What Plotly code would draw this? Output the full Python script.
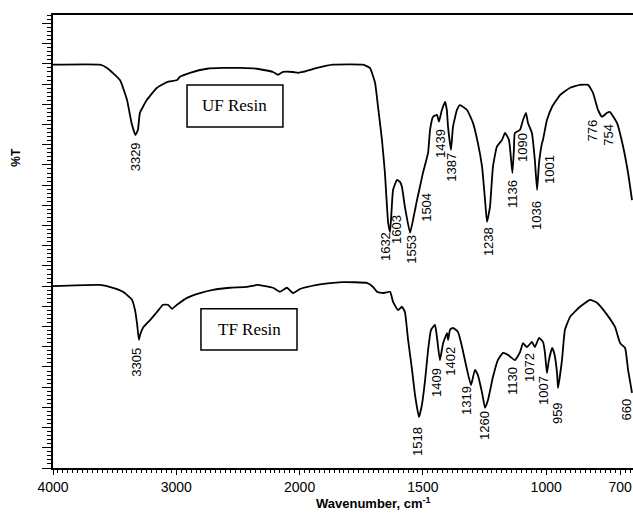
import plotly.graph_objects as go

# ---- data (wavenumber in cm-1, transmittance in arbitrary %T units) ----
uf_wn = [4000, 3619, 3562, 3457, 3400, 3363, 3331, 3311, 3295, 3238, 3157, 3075, 2994, 2970,
         2889, 2751, 2621, 2483, 2345, 2216, 2175, 2135, 2054, 2013, 1986, 1929, 1865, 1743,
         1715, 1694, 1682, 1666, 1654, 1641, 1633, 1621, 1605, 1593, 1585, 1573, 1552, 1540,
         1524, 1512, 1500, 1479, 1471, 1459, 1443, 1435, 1423, 1410, 1403, 1398, 1386, 1378,
         1362, 1350, 1321, 1297, 1277, 1260, 1248, 1240, 1228, 1216, 1200, 1179, 1167, 1151,
         1137, 1131, 1127, 1106, 1094, 1082, 1074, 1058, 1046, 1037, 1029, 1017, 1013, 997,
         976, 944, 903, 863, 830, 810, 790, 774, 753, 741, 733, 713, 688, 668, 652]
uf_T = [99.8, 99.8, 99.0, 96.0, 91.1, 85.4, 82.4, 83.7, 87.9, 91.1, 94.1, 95.5, 96.0, 96.8,
        97.8, 98.8, 99.0, 99.0, 98.8, 98.0, 97.3, 98.0, 98.0, 97.8, 98.0, 99.0, 99.8, 99.8,
        99.0, 95.3, 89.4, 81.2, 73.0, 60.7, 58.4, 68.8, 71.3, 70.8, 69.6, 64.6, 58.2, 61.4,
        66.3, 69.6, 73.0, 78.0, 83.7, 86.9, 87.4, 85.7, 88.6, 90.6, 88.6, 84.4, 78.7, 84.4,
        88.6, 89.8, 88.6, 85.4, 80.4, 74.5, 66.3, 60.9, 64.6, 74.5, 79.5, 81.2, 82.9, 81.2,
        73.0, 78.7, 82.9, 83.7, 86.1, 87.9, 85.4, 82.9, 76.2, 68.8, 75.5, 80.4, 81.2, 86.1,
        89.4, 92.3, 94.1, 94.8, 94.8, 92.8, 88.6, 86.9, 87.9, 88.1, 87.4, 85.4, 79.5, 73.0, 66.3]

tf_wn = [4000, 3619, 3513, 3432, 3359, 3335, 3319, 3303, 3294, 3270, 3213, 3157, 3108, 3067,
         3035, 2994, 2913, 2808, 2702, 2565, 2427, 2345, 2216, 2159, 2103, 2054, 1998, 1929,
         1865, 1824, 1727, 1702, 1686, 1662, 1633, 1621, 1601, 1585, 1573, 1560, 1544, 1532,
         1516, 1504, 1491, 1479, 1467, 1451, 1443, 1431, 1418, 1402, 1398, 1390, 1378, 1358,
         1341, 1321, 1305, 1289, 1277, 1260, 1248, 1236, 1216, 1196, 1175, 1155, 1127, 1106,
         1094, 1078, 1058, 1046, 1029, 1013, 1005, 997, 989, 976, 968, 956, 952, 936, 924,
         903, 863, 822, 794, 753, 721, 700, 680, 668, 652]
tf_T = [45.0, 45.3, 44.6, 43.6, 41.6, 39.1, 35.9, 31.7, 32.9, 34.7, 36.6, 38.6, 40.4, 40.4,
        39.4, 40.4, 42.1, 43.3, 44.1, 44.6, 44.8, 45.3, 44.6, 43.6, 44.6, 43.3, 44.3, 45.3,
        45.8, 46.0, 45.8, 44.8, 43.6, 43.3, 43.6, 41.1, 39.1, 39.9, 38.6, 31.7, 24.3, 18.1,
        12.6, 15.6, 21.8, 29.2, 34.2, 35.4, 32.4, 26.7, 30.9, 33.4, 31.7, 34.2, 34.7, 33.7,
        29.9, 24.3, 20.5, 24.3, 23.0, 18.6, 14.9, 16.8, 22.5, 26.7, 28.5, 28.0, 26.7, 28.7,
        30.9, 29.9, 31.2, 29.9, 32.2, 31.2, 28.5, 23.5, 26.7, 29.7, 28.5, 23.5, 19.8, 26.7, 34.2,
        37.4, 39.9, 41.6, 40.9, 37.9, 34.9, 30.9, 29.7, 24.3, 18.6]

uf_peaks = ["3329", "1632", "1603", "1553", "1504", "1439", "1387", "1238", "1136", "1090",
            "1036", "1001", "776", "754"]
uf_peak_wn = [3331, 1654, 1605, 1544, 1483, 1431, 1382, 1236, 1139, 1094, 1037, 984, 812, 745]
uf_peak_T = [77.0, 54.9, 58.9, 54.0, 64.4, 80.4, 74.3, 55.9, 67.8, 79.2, 62.4, 73.8, 83.4, 82.5]

tf_peaks = ["3305", "1518", "1409", "1402", "1319", "1260", "1130", "1072", "1007", "959", "660"]
tf_peak_wn = [3319, 1520, 1443, 1386, 1321, 1248, 1139, 1066, 1013, 956, 674]
tf_peak_T = [26.3, 6.7, 21.3, 26.3, 16.6, 10.4, 21.5, 25.0, 19.3, 13.6, 14.4]

tick_label_wn = [4000, 3000, 2000, 1500, 1000, 700]
x_limits = [4000, 648]
y_limits = [0, 112.1]


def xt(w):
    """Instrument scale: 1000 cm-1 per unit above 2000, 500 cm-1 per unit below."""
    return (4000 - w) / 1000 if w >= 2000 else 2 + (2000 - w) / 500


major_wn = list(range(4000, 2000, -200)) + list(range(2000, 690, -100))
minor_wn = list(range(4000, 2000, -40)) + list(range(2000, 640, -20))

fig = go.Figure()
for wn, tv in ((uf_wn, uf_T), (tf_wn, tf_T)):
    fig.add_trace(go.Scatter(x=[xt(w) for w in wn], y=tv, mode="lines",
                             line=dict(color="black", width=1.8, shape="spline", smoothing=0.4),
                             showlegend=False, hoverinfo="skip"))

label_font = dict(family="Liberation Sans Narrow, Arial Narrow, Liberation Sans, Arial", size=13, color="black")
annotations = []
for labels, wns, ts in ((uf_peaks, uf_peak_wn, uf_peak_T), (tf_peaks, tf_peak_wn, tf_peak_T)):
    for lab, w, t in zip(labels, wns, ts):
        annotations.append(dict(x=xt(w), y=t, xref="x", yref="y", text=lab, textangle=-90,
                                showarrow=False, xanchor="center", yanchor="middle", font=label_font))

# resin boxes
annotations.append(dict(x=1.476, y=89.6, xref="x", yref="y", text="UF Resin", showarrow=False,
                        font=dict(family="Liberation Serif, Times New Roman, serif", size=17, color="black")))
annotations.append(dict(x=1.590, y=34.3, xref="x", yref="y", text="TF Resin", showarrow=False,
                        font=dict(family="Liberation Serif, Times New Roman, serif", size=17, color="black")))
shapes = [
    dict(type="rect", xref="x", yref="y", x0=1.087, x1=1.865, y0=84.4, y1=94.8,
         line=dict(color="black", width=1.5)),
    dict(type="rect", xref="x", yref="y", x0=1.200, x1=1.979, y0=29.2, y1=39.4,
         line=dict(color="black", width=1.5)),
]

annotations.append(dict(x=-0.064, y=0.687, xref="paper", yref="paper", text="<b>%T</b>", textangle=-90,
                        showarrow=False, xanchor="center", yanchor="middle",
                        font=dict(family="Liberation Sans, Arial", size=12, color="black")))
annotations.append(dict(x=0.553, y=-0.078, xref="paper", yref="paper",
                        text="<b>Wavenumber, cm<sup>-1</sup></b>", showarrow=False,
                        xanchor="center", yanchor="middle",
                        font=dict(family="Liberation Sans, Arial", size=13, color="black")))

fig.update_layout(
    width=633, height=513,
    margin=dict(l=53, r=0, t=15, b=45),
    paper_bgcolor="white", plot_bgcolor="white",
    annotations=annotations, shapes=shapes,
    xaxis=dict(range=[xt(x_limits[0]), xt(x_limits[1])], showgrid=False, zeroline=False,
               showline=True, linecolor="black", linewidth=1.5, mirror=True,
               ticks="outside", ticklen=5, tickwidth=1.2, tickcolor="black",
               tickmode="array", tickvals=[xt(w) for w in major_wn],
               ticktext=[str(w) if w in tick_label_wn else "" for w in major_wn],
               tickfont=dict(family="Liberation Sans, Arial", size=14, color="black"),
               minor=dict(tickmode="array", tickvals=[xt(w) for w in minor_wn], ticks="outside",
                          ticklen=3, tickwidth=1, tickcolor="black")),
    yaxis=dict(range=y_limits, showgrid=False, zeroline=False, showline=True, linecolor="black",
               linewidth=1.5, mirror=False, ticks="outside", ticklen=9, tickwidth=1.2,
               tickcolor="black", tickmode="linear", tick0=0, dtick=5, showticklabels=False,
               minor=dict(ticks="outside", ticklen=4, dtick=1, tick0=0, tickwidth=1, tickcolor="black")),
)

fig.write_html("out.html")
